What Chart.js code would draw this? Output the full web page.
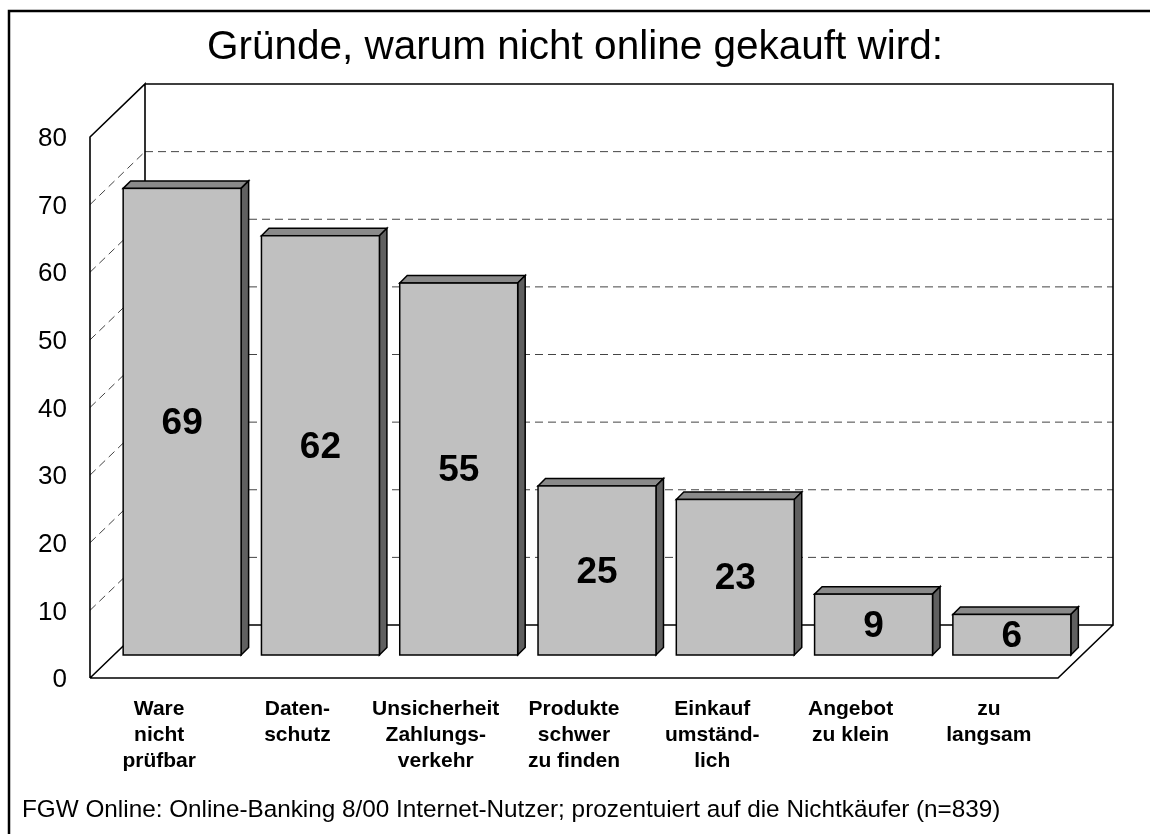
<!DOCTYPE html>
<html>
<head>
<meta charset="utf-8">
<script src="https://cdn.jsdelivr.net/npm/chart.js@4/dist/chart.umd.min.js"></script>
<style>
  html, body { margin: 0; padding: 0; background: #fff; }
  #wrap { width: 1150px; height: 834px; position: relative; }
</style>
</head>
<body>
<div id="wrap"><canvas id="c"></canvas></div>
<script>
// Data
const titleText = 'Gründe, warum nicht online gekauft wird:';
const footerText = 'FGW Online: Online-Banking 8/00 Internet-Nutzer; prozentuiert auf die Nichtkäufer (n=839)';
const categories = [
    ['Ware', 'nicht', 'prüfbar'],
    ['Daten-', 'schutz'],
    ['Unsicherheit', 'Zahlungs-', 'verkehr'],
    ['Produkte', 'schwer', 'zu finden'],
    ['Einkauf', 'umständ-', 'lich'],
    ['Angebot', 'zu klein'],
    ['zu', 'langsam']
];
const values = [69, 62, 55, 25, 23, 9, 6];
const yMin = 0, yMax = 80, yStep = 10;

// 3D look: wall depth, bar plane offset, bar depth
const WALL_DX = 55, WALL_DY = -53;
const BAR_DX = 23, BAR_DY = -23;
const BAR_D = 7.5;
const FONT = '"Liberation Sans", Arial, Helvetica, sans-serif';

// Frame, title and footer
const chromePlugin = {
    id: 'chrome',
    beforeDraw(chart) {
        const ctx = chart.ctx;
        ctx.save();
        ctx.fillStyle = '#fff';
        ctx.fillRect(0, 0, chart.width, chart.height);
        ctx.strokeStyle = '#000';
        ctx.lineWidth = 2.5;
        ctx.strokeRect(9, 11, chart.width + 20, chart.height + 20);
        ctx.fillStyle = '#000';
        ctx.textBaseline = 'alphabetic';
        ctx.font = '40.5px ' + FONT;
        ctx.textAlign = 'center';
        ctx.fillText(titleText, 575, 59);
        ctx.font = '24.3px ' + FONT;
        ctx.textAlign = 'left';
        ctx.fillText(footerText, 22, 817);
        ctx.restore();
    }
};

// Back wall, side wall, floor and dashed gridlines
const wallsPlugin = {
    id: 'walls',
    beforeDatasetsDraw(chart) {
        const { ctx, chartArea: a, scales: { y } } = chart;
        const L = a.left, R = a.right, T = a.top, B = a.bottom;
        ctx.save();
        ctx.lineWidth = 1;
        ctx.strokeStyle = '#444';
        ctx.setLineDash([8, 5]);
        y.ticks.forEach(t => {
            if (t.value <= yMin || t.value >= yMax) return;
            const py = y.getPixelForValue(t.value);
            ctx.beginPath();
            ctx.moveTo(L + WALL_DX, py + WALL_DY);
            ctx.lineTo(R + WALL_DX, py + WALL_DY);
            ctx.stroke();
            ctx.beginPath();
            ctx.moveTo(L, py);
            ctx.lineTo(L + WALL_DX, py + WALL_DY);
            ctx.stroke();
        });
        ctx.setLineDash([]);
        ctx.strokeStyle = '#000';
        ctx.lineWidth = 1.6;
        ctx.beginPath();
        // side wall
        ctx.moveTo(L, B); ctx.lineTo(L, T);
        ctx.lineTo(L + WALL_DX, T + WALL_DY);
        ctx.lineTo(L + WALL_DX, B + WALL_DY);
        ctx.lineTo(L, B);
        // back wall
        ctx.moveTo(L + WALL_DX, T + WALL_DY);
        ctx.lineTo(R + WALL_DX, T + WALL_DY);
        ctx.lineTo(R + WALL_DX, B + WALL_DY);
        ctx.lineTo(L + WALL_DX, B + WALL_DY);
        // floor
        ctx.moveTo(L, B); ctx.lineTo(R, B);
        ctx.lineTo(R + WALL_DX, B + WALL_DY);
        ctx.stroke();
        ctx.restore();
    }
};

// 3D boxes drawn from the bar elements, plus the value labels
const boxesPlugin = {
    id: 'boxes',
    afterDatasetsDraw(chart) {
        const ctx = chart.ctx;
        const meta = chart.getDatasetMeta(0);
        ctx.save();
        ctx.lineWidth = 1.5;
        ctx.strokeStyle = '#000';
        ctx.lineJoin = 'miter';
        meta.data.forEach((bar, i) => {
            const p = bar.getProps(['x', 'y', 'base', 'width'], true);
            const l = p.x - p.width / 2 + BAR_DX, r = p.x + p.width / 2 + BAR_DX;
            const t = p.y + BAR_DY, b = p.base + BAR_DY;
            // top
            ctx.fillStyle = '#8a8a8a';
            ctx.beginPath();
            ctx.moveTo(l, t); ctx.lineTo(l + BAR_D, t - BAR_D);
            ctx.lineTo(r + BAR_D, t - BAR_D); ctx.lineTo(r, t); ctx.closePath();
            ctx.fill(); ctx.stroke();
            // side
            ctx.fillStyle = '#606060';
            ctx.beginPath();
            ctx.moveTo(r, t); ctx.lineTo(r + BAR_D, t - BAR_D);
            ctx.lineTo(r + BAR_D, b - BAR_D); ctx.lineTo(r, b); ctx.closePath();
            ctx.fill(); ctx.stroke();
            // front
            ctx.fillStyle = '#c0c0c0';
            ctx.fillRect(l, t, r - l, b - t);
            ctx.strokeRect(l, t, r - l, b - t);
            // value
            ctx.fillStyle = '#000';
            ctx.font = 'bold 37px ' + FONT;
            ctx.textAlign = 'center';
            ctx.textBaseline = 'middle';
            ctx.fillText(String(values[i]), (l + r) / 2, (t + b) / 2 + 2);
        });
        ctx.restore();
    }
};

new Chart(document.getElementById('c'), {
    type: 'bar',
    data: {
        labels: categories,
        datasets: [{
            data: values,
            backgroundColor: 'rgba(0,0,0,0)',
            borderWidth: 0,
            categoryPercentage: 1,
            barPercentage: 0.853
        }]
    },
    options: {
        responsive: true,
        maintainAspectRatio: false,
        animation: false,
        layout: { padding: { top: 137, left: 0, right: 92, bottom: 0 } },
        plugins: {
            legend: { display: false },
            tooltip: { enabled: false }
        },
        scales: {
            x: {
                grid: { display: false },
                border: { display: false },
                afterFit: s => { s.height = 156; },
                ticks: {
                    color: '#000',
                    padding: 10,
                    maxRotation: 0,
                    autoSkip: false,
                    font: { family: FONT, size: 21, weight: 'bold', lineHeight: 1.25 }
                }
            },
            y: {
                min: yMin,
                max: yMax,
                grid: { display: false, drawTicks: false },
                border: { display: false },
                afterFit: s => { s.width = 90; },
                ticks: {
                    stepSize: yStep,
                    color: '#000',
                    padding: 23,
                    labelOffset: 2,
                    font: { family: FONT, size: 26 }
                }
            }
        }
    },
    plugins: [chromePlugin, wallsPlugin, boxesPlugin]
});
</script>
</body>
</html>
